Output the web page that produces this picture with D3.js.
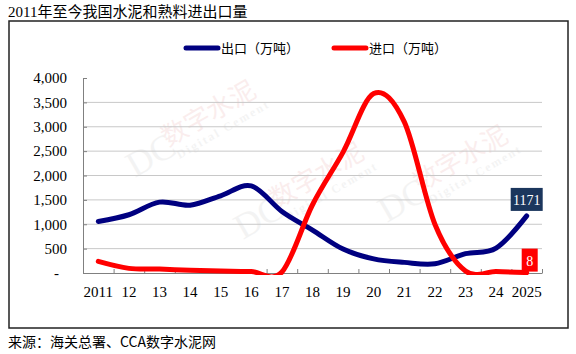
<!DOCTYPE html>
<html>
<head>
<meta charset="utf-8">
<script src="https://cdn.jsdelivr.net/npm/d3@7"></script>
<style>
  body { margin: 0; background: #fff; }
  svg { display: block; }
</style>
</head>
<body>
<div id="chart"></div>
<script>
// values (万吨)
const years = ['2011', '12', '13', '14', '15', '16', '17', '18', '19', '20', '21', '22', '23', '24', '2025']
const exportVals = [1058, 1195, 1454, 1392, 1584, 1788, 1263, 880, 490, 290, 218, 190, 396, 512, 1171]
const importVals = [238, 95, 80, 55, 40, 30, 20, 1400, 2480, 3680, 3100, 1000, 40, 30, 8]
const yTicks = [0, 500, 1000, 1500, 2000, 2500, 3000, 3500, 4000]
const seriesNames = ['出口（万吨）', '进口（万吨）']
const seriesColors = ['#000080', '#ff0000']

const width = 576
const height = 354
const plotL = 83, plotR = 542, plotT = 78, plotB = 273

const svg = d3.select('#chart')
              .append('svg')
              .attr('width', width)
              .attr('height', height)

// title + frame + source
svg.append('text')
   .attr('x', 8)
   .attr('y', 17)
   .style('font', '15px "Liberation Serif", "Noto Sans CJK SC"')
   .text('2011年至今我国水泥和熟料进出口量')

svg.append('rect')
   .attr('x', 9)
   .attr('y', 21)
   .attr('width', 559)
   .attr('height', 307)
   .attr('fill', 'none')
   .attr('stroke', '#222')
   .attr('stroke-width', 1.5)

svg.append('text')
   .attr('x', 8)
   .attr('y', 347)
   .style('font', '14px "Noto Sans CJK SC"')
   .text('来源：海关总署、CCA数字水泥网')

const x = d3.scaleBand().domain(years).range([plotL, plotR])
const xEdge = d3.scaleLinear().domain([0, years.length]).range([plotL, plotR])
const y = d3.scaleLinear().domain([0, 4000]).range([plotB, plotT])
const cx = d => x(d) + x.bandwidth() / 2

// watermarks (faint)
const marks = [[150, 160], [258, 222], [402, 205]]
marks.forEach(([mx, my]) => {
    const g = svg.append('g').attr('transform', `translate(${mx},${my}) rotate(-30)`).style('opacity', 0.09)
    g.append('text').attr('x', -22).attr('y', 8)
     .style('font', '36px "Liberation Serif"').attr('fill', '#888').text('DC')
    g.append('text').attr('x', 22).attr('y', -2)
     .style('font', '26px "Noto Sans CJK SC"').attr('fill', '#d04040').text('数字水泥')
    g.append('text').attr('x', 26).attr('y', 14)
     .style('font', 'bold 12px "Liberation Serif"').attr('fill', '#888').attr('letter-spacing', 2).text('Digital Cement')
})

// gridlines
svg.append('g')
   .selectAll('line')
   .data(yTicks.filter(t => t > 0 && t < 4000))
   .enter()
   .append('line')
   .attr('x1', plotL)
   .attr('x2', plotR)
   .attr('y1', d => y(d))
   .attr('y2', d => y(d))
   .attr('stroke', '#c8c8c8')
   .attr('stroke-width', 1)

// y axis
const yAxis = svg.append('g')
   .attr('transform', `translate(${plotL},0)`)
   .call(d3.axisLeft(y).tickValues(yTicks).tickSizeInner(-4).tickSizeOuter(0).tickPadding(16)
           .tickFormat(d => d === 0 ? '-' : d3.format(',')(d)))
yAxis.select('.domain').attr('stroke', '#808080')
yAxis.selectAll('line').attr('stroke', '#808080')
yAxis.selectAll('text').style('font', '15px "Liberation Serif"').attr('fill', '#000')
yAxis.selectAll('.tick').filter(d => d === 0).select('text').attr('dx', -8)

// x axis: ticks on category edges, labels at centres
const xTickAxis = svg.append('g')
   .attr('transform', `translate(0,${plotB})`)
   .call(d3.axisBottom(xEdge).ticks(years.length).tickSizeInner(-4).tickSizeOuter(0).tickFormat(''))
xTickAxis.select('.domain').attr('stroke', '#808080')
xTickAxis.selectAll('line').attr('stroke', '#808080')

const xLab = svg.append('g')
   .attr('transform', `translate(0,${plotB})`)
   .call(d3.axisBottom(x).tickSize(0).tickPadding(13))
xLab.select('.domain').remove()
xLab.selectAll('text').style('font', '15px "Liberation Serif"').attr('fill', '#000')

// lines (clip just below the axis so near-zero stretches sit on it)
svg.append('clipPath').attr('id', 'plot')
   .append('rect').attr('x', plotL).attr('y', plotT - 20).attr('width', plotR - plotL).attr('height', plotB - plotT + 22)

const line = d3.line()
               .x((_, i) => cx(years[i]))
               .y(d => y(d))
               .curve(d3.curveCardinal.tension(0))

;[exportVals, importVals].forEach((vals, k) => {
    svg.append('path')
       .datum(vals)
       .attr('clip-path', 'url(#plot)')
       .attr('d', line)
       .attr('fill', 'none')
       .attr('stroke', seriesColors[k])
       .attr('stroke-width', 5)
       .attr('stroke-linecap', 'round')
})

// end labels
const last = years[years.length - 1]
const lab1 = String(exportVals[exportVals.length - 1])
const lab2 = String(importVals[importVals.length - 1])
svg.append('rect')
   .attr('x', cx(last) - 16).attr('y', y(+lab1) - 28)
   .attr('width', 32).attr('height', 23)
   .attr('fill', '#1b365d')
svg.append('text')
   .attr('x', cx(last)).attr('y', y(+lab1) - 11)
   .attr('text-anchor', 'middle').attr('fill', '#fff')
   .style('font', '14px "Liberation Serif"')
   .text(lab1)
svg.append('rect')
   .attr('x', cx(last) - 5).attr('y', y(+lab2) - 24)
   .attr('width', 16).attr('height', 23)
   .attr('fill', '#ff0000')
svg.append('text')
   .attr('x', cx(last) + 3).attr('y', y(+lab2) - 7)
   .attr('text-anchor', 'middle').attr('fill', '#fff')
   .style('font', '14px "Liberation Serif"')
   .text(lab2)

// legend
const legend = svg.append('g')
legend.selectAll('line')
      .data(seriesNames)
      .enter()
      .append('line')
      .attr('x1', (_, i) => 186 + i * 148)
      .attr('x2', (_, i) => 218 + i * 148)
      .attr('y1', 48)
      .attr('y2', 48)
      .attr('stroke', (_, i) => seriesColors[i])
      .attr('stroke-width', 5)
      .attr('stroke-linecap', 'round')
legend.selectAll('text')
      .data(seriesNames)
      .enter()
      .append('text')
      .attr('x', (_, i) => 221 + i * 148)
      .attr('y', 53)
      .style('font', '13px "Noto Sans CJK SC"')
      .text(d => d)
</script>
</body>
</html>
